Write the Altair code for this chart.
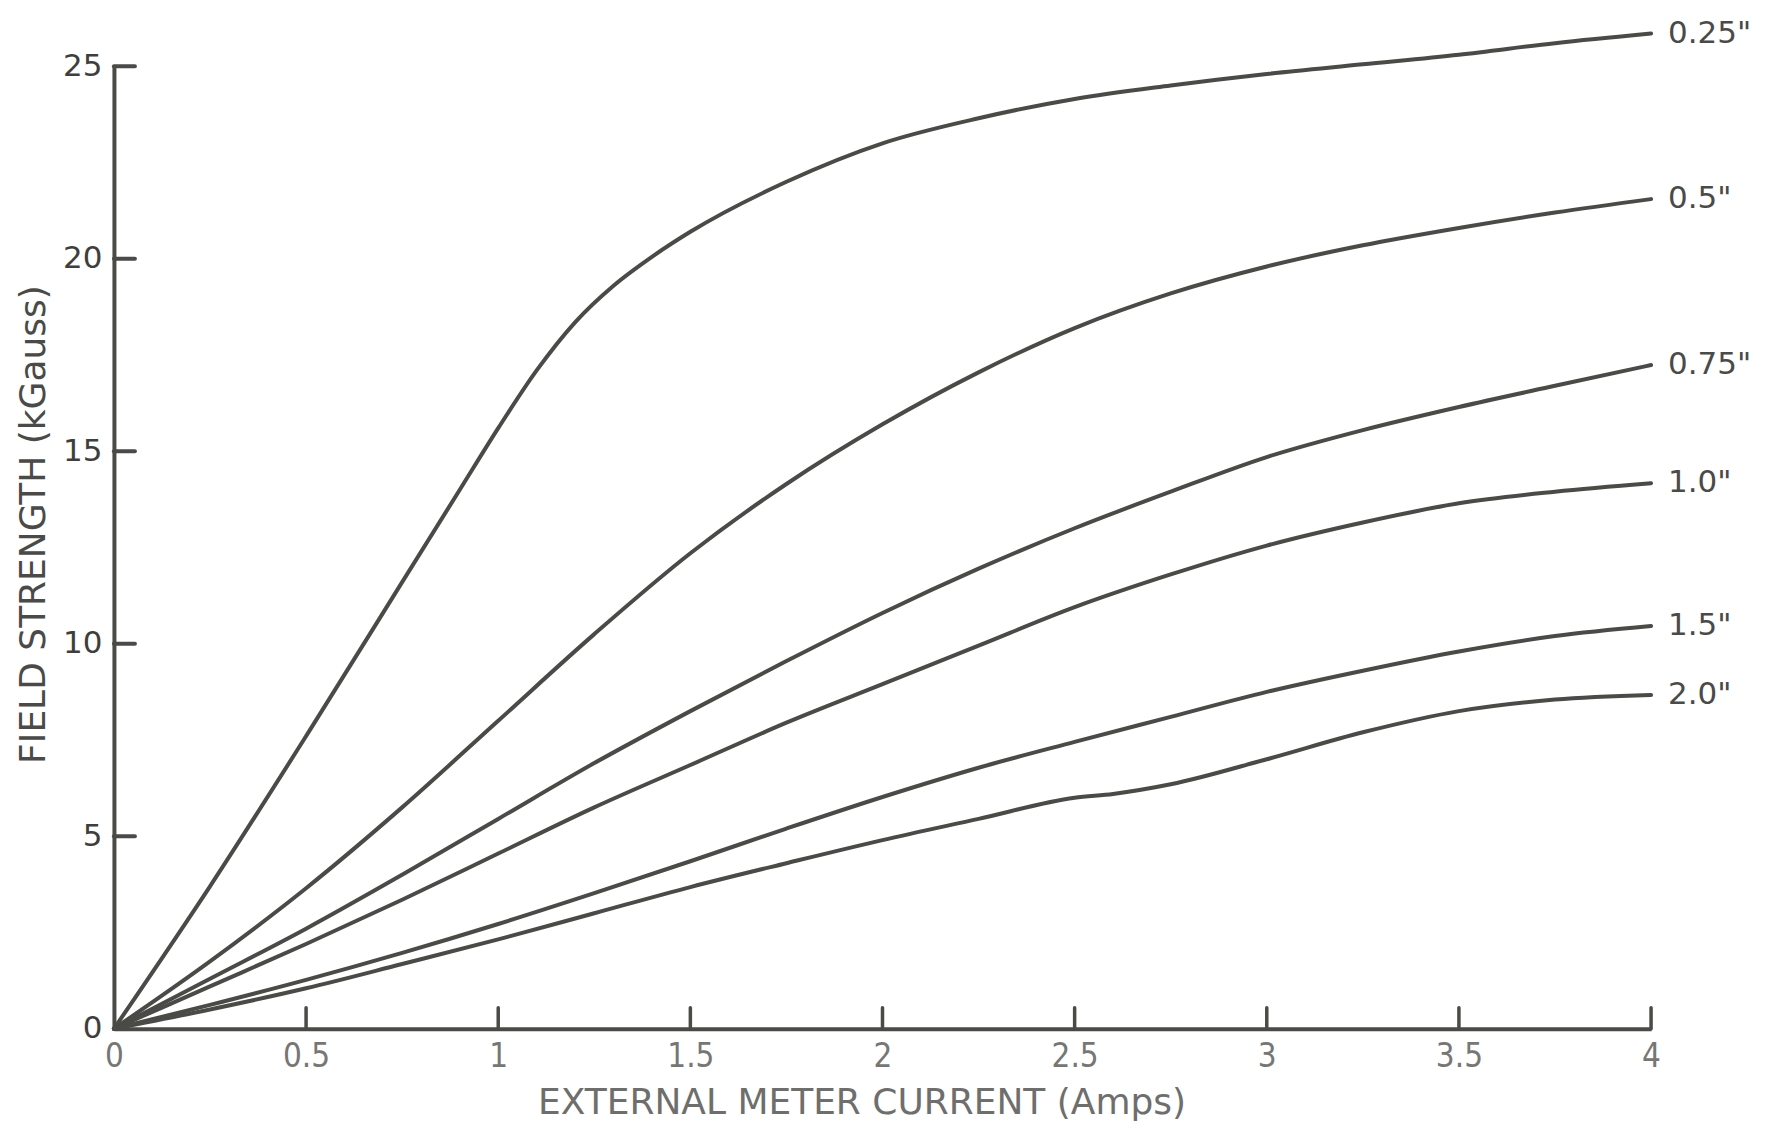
import altair as alt
import pandas as pd

# ---- data ----
SERIES = ['0.25"', '0.5"', '0.75"', '1.0"', '1.5"', '2.0"']

X_025 = [0, 0.25, 0.5, 0.75, 0.9, 1.0, 1.1, 1.2, 1.3, 1.4, 1.5, 1.75, 2.0, 2.25, 2.5, 2.75, 3.0, 3.25, 3.5, 3.75, 4.0]
Y_025 = [0, 3.7, 7.6, 11.6, 14.0, 15.6, 17.1, 18.35, 19.3, 20.05, 20.7, 22.0, 23.0, 23.65, 24.15, 24.5, 24.8, 25.05, 25.3, 25.6, 25.85]

X_05 = [0, 0.25, 0.5, 0.75, 1.0, 1.25, 1.5, 1.75, 2.0, 2.25, 2.5, 2.75, 3.0, 3.25, 3.5, 3.75, 4.0]
Y_05 = [0, 1.75, 3.65, 5.75, 8.0, 10.25, 12.35, 14.15, 15.7, 17.05, 18.2, 19.1, 19.8, 20.35, 20.8, 21.2, 21.55]

X_075 = [0, 0.25, 0.5, 0.75, 1.0, 1.25, 1.5, 1.75, 2.0, 2.25, 2.5, 2.75, 3.0, 3.25, 3.5, 3.75, 4.0]
Y_075 = [0, 1.3, 2.6, 4.0, 5.45, 6.9, 8.25, 9.55, 10.8, 11.95, 13.0, 13.95, 14.85, 15.55, 16.15, 16.7, 17.24]

X_10 = [0, 0.25, 0.5, 0.75, 1.0, 1.25, 1.5, 1.75, 2.0, 2.25, 2.5, 2.75, 3.0, 3.25, 3.5, 3.75, 4.0]
Y_10 = [0, 1.1, 2.2, 3.35, 4.55, 5.75, 6.85, 7.95, 8.95, 9.95, 10.95, 11.8, 12.55, 13.15, 13.65, 13.95, 14.17]

X_15 = [0, 0.25, 0.5, 0.75, 1.0, 1.25, 1.5, 1.75, 2.0, 2.25, 2.5, 2.75, 3.0, 3.25, 3.5, 3.75, 4.0]
Y_15 = [0, 0.62, 1.27, 1.97, 2.72, 3.52, 4.35, 5.2, 6.02, 6.78, 7.45, 8.1, 8.75, 9.3, 9.8, 10.2, 10.46]

X_20 = [0, 0.25, 0.5, 0.75, 1.0, 1.25, 1.5, 1.75, 2.0, 2.25, 2.5, 2.6, 2.75, 3.0, 3.25, 3.5, 3.75, 4.0]
Y_20 = [0, 0.5, 1.05, 1.68, 2.32, 3.0, 3.68, 4.3, 4.9, 5.45, 6.0, 6.1, 6.35, 7.0, 7.7, 8.25, 8.55, 8.67]

X_TICKS = [0, 0.5, 1, 1.5, 2, 2.5, 3, 3.5, 4]
Y_TICKS = [0, 5, 10, 15, 20, 25]

# ---- styling ----
INK = "#4a4a47"
W, H = 1538, 963

rows = []
for name, xs_, ys_ in zip(SERIES, [X_025, X_05, X_075, X_10, X_15, X_20],
                          [Y_025, Y_05, Y_075, Y_10, Y_15, Y_20]):
    for i, (a, b) in enumerate(zip(xs_, ys_)):
        rows.append({"gap": name, "current": a, "field": b, "order": i})
df = pd.DataFrame(rows)
ends = df.sort_values("order").groupby("gap", as_index=False).last()

xs = alt.Scale(domain=[0, 4], nice=False, zero=False)
ys = alt.Scale(domain=[0, 25], nice=False, zero=False)

x_axis = alt.Axis(
    values=X_TICKS, format="~g", ticks=False, grid=False,
    domainColor=INK, domainWidth=4,
    labelFont="Liberation Sans Narrow, DejaVu Sans Condensed, Liberation Sans",
    labelFontSize=33, labelColor="#767674", labelPadding=12, labelFlush=False,
    title="EXTERNAL METER CURRENT (Amps)",
    titleFont="DejaVu Sans", titleFontSize=36,
    titleFontWeight="normal", titleColor="#6e6e6c",
    titleX=748, titleY=74, titleAlign="center", titleBaseline="middle",
)
y_axis = alt.Axis(
    values=Y_TICKS, ticks=False, grid=False,
    domainColor=INK, domainWidth=4,
    labelFont="DejaVu Sans", labelFontSize=31, labelColor="#3e3e3c",
    labelPadding=12, labelFlush=False,
    title="FIELD STRENGTH (kGauss)",
    titleFont="DejaVu Sans", titleFontSize=36, titleFontWeight="normal",
    titleColor="#4a4a48", titleX=-80, titleY=458, titleAngle=270,
    titleAlign="center", titleBaseline="middle",
)

X = alt.X("current:Q", scale=xs, axis=x_axis)
Y = alt.Y("field:Q", scale=ys, axis=y_axis)

lines = alt.Chart(df).mark_line(
    interpolate="monotone", strokeWidth=4, color=INK, strokeCap="round"
).encode(x=X, y=Y, detail="gap:N")

labels = alt.Chart(ends).mark_text(
    align="left", baseline="middle", dx=17, font="DejaVu Sans",
    fontSize=31, color="#4a4a48"
).encode(x=X, y=Y, text="gap:N")

ytick_df = pd.DataFrame({"field": [v for v in Y_TICKS if v > 0]})
xtick_df = pd.DataFrame({"current": [v for v in X_TICKS if v > 0]})

yticks = alt.Chart(ytick_df).mark_rule(color=INK, strokeWidth=4, strokeCap="round").encode(
    y=Y, x=alt.value(0), x2=alt.value(21),
)
xticks = alt.Chart(xtick_df).mark_rule(color=INK, strokeWidth=3.5, strokeCap="round").encode(
    x=X, y=alt.value(H), y2=alt.value(H - 21),
)

chart = alt.layer(lines, yticks, xticks, labels).properties(
    width=W, height=H,
    autosize=alt.AutoSizeParams(type="none"),
    padding={"left": 106, "top": 58, "right": 108, "bottom": 97},
    background="white",
).configure_view(stroke=None)

chart.save("out.html", embed_options={"renderer": "svg", "actions": False})
